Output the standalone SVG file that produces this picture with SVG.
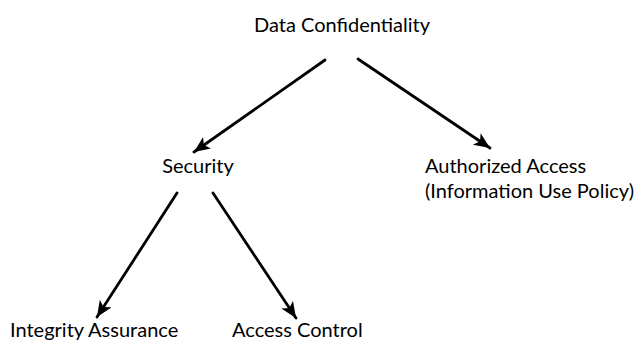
<svg xmlns="http://www.w3.org/2000/svg" width="638" height="345" viewBox="0 0 638 345">
  <style>
    .label { font-family: Lato, "Open Sans", "Liberation Sans", sans-serif; font-size: 20px; fill: #000; }
    .edge { stroke: #000; stroke-width: 2.8; fill: none; stroke-linecap: round; }
  </style>
  <defs>
    <marker id="arrow" markerUnits="userSpaceOnUse" markerWidth="18" markerHeight="16" refX="16" refY="7" orient="auto">
      <path d="M0,0 L16,7 L0,14 L4,7 Z" fill="#000"/>
    </marker>
  </defs>
  <rect width="638" height="345" fill="#fff"/>

  <g id="connectors">
    <line class="edge" x1="325" y1="60" x2="194" y2="152" marker-end="url(#arrow)"/>
    <line class="edge" x1="358" y1="59" x2="490" y2="148" marker-end="url(#arrow)"/>
    <line class="edge" x1="177" y1="193" x2="97" y2="317" marker-end="url(#arrow)"/>
    <line class="edge" x1="213" y1="193" x2="296" y2="318" marker-end="url(#arrow)"/>
  </g>

  <g id="data-confidentiality">
    <text class="label" x="342" y="32" text-anchor="middle">Data Confidentiality</text>
  </g>
  <g id="security">
    <text class="label" x="198" y="173" text-anchor="middle">Security</text>
  </g>
  <g id="authorized-access">
    <text class="label" x="425" y="173">Authorized Access</text>
    <text class="label" x="425" y="198">(Information Use Policy)</text>
  </g>
  <g id="integrity-assurance">
    <text class="label" x="10" y="337">Integrity Assurance</text>
  </g>
  <g id="access-control">
    <text class="label" x="232" y="337">Access Control</text>
  </g>
</svg>
